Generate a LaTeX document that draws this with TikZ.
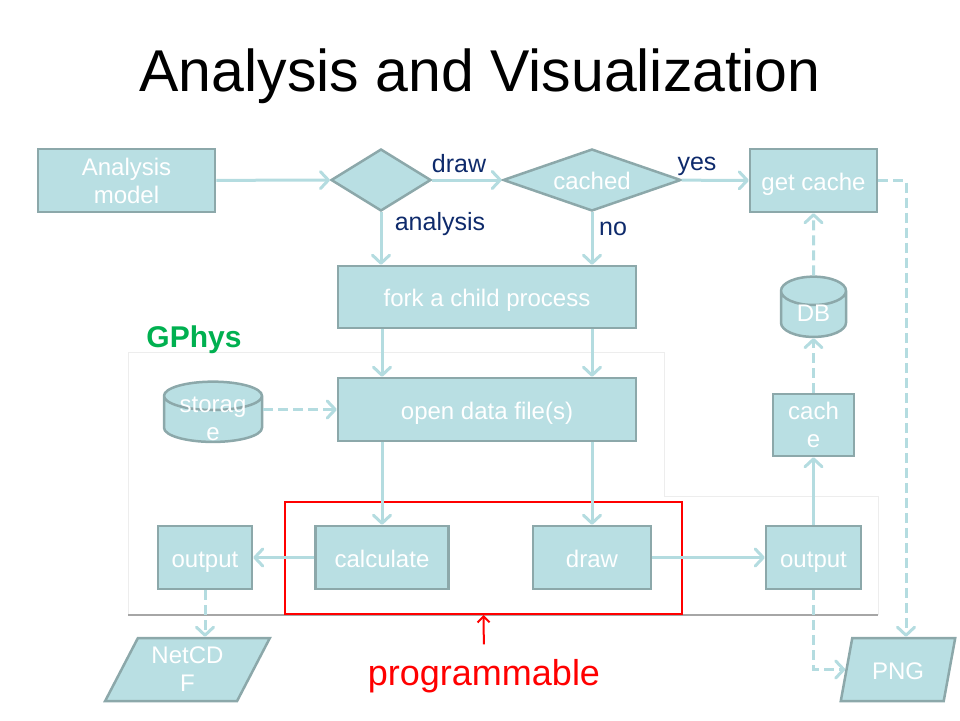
\documentclass[tikz,border=0pt]{standalone}
\usepackage{fontspec}
\setmainfont{Liberation Sans}
\usetikzlibrary{shapes.geometric,arrows.meta}
\definecolor{boxfill}{HTML}{B9DFE3}
\definecolor{boxline}{HTML}{8CA8AA}
\definecolor{flowline}{HTML}{B4DCE0}
\definecolor{labelblue}{HTML}{0E2A6B}
\definecolor{gphysgreen}{HTML}{00B050}

\begin{document}
\begin{tikzpicture}[x=1pt, y=-1pt,
	every node/.style = {align=center, font=\fontsize{24}{28}\selectfont},
	box/.style = {shape=rectangle, draw=boxline, fill=boxfill,
		line width=2.5pt, text=white, inner sep=0pt},
	sbox/.style = {box, text height=19pt, text depth=0pt},
	decision/.style = {sbox, shape=diamond, aspect=3},
	store/.style = {box, shape=cylinder, shape border rotate=90, aspect=0.85,
		label={[text=white, yshift=1pt]center:#1}},
	io/.style = {box, shape=trapezium, trapezium stretches=true},
	tag/.style = {text=labelblue, font=\fontsize{25}{28}\selectfont},
	flow/.style = {draw=flowline, line width=3pt,
		-{Straight Barb[length=8pt,width=17pt,round]}},
	dflow/.style = {flow, dash pattern=on 10pt off 5pt}]
	\useasboundingbox (0,0) rectangle (960,720);
	\node (title) [font=\fontsize{59}{64}\selectfont] at (480,76) {Analysis and Visualization};

	% GPhys region
	\draw[black!7, line width=1pt] (128,615) -- (128,352) -- (664,352) -- (664,496)
		-- (878,496) -- (878,615);
	\draw[black!35, line width=1.5pt] (128,615) -- (878,615);
	\node (gphys) [text=gphysgreen, font=\bfseries\fontsize{30}{32}\selectfont] at (194,340) {GPhys};

	\node (model) [box, minimum width=177, minimum height=63] at (126.5,180.5) {Analysis\\model};
	\node (mode) [decision, minimum width=100, minimum height=62] at (381,180) {};
	\node (cached) [decision, minimum width=178, minimum height=62] at (592,180) {cached};
	\node (getcache) [sbox, minimum width=127, minimum height=63] at (813.5,180.5) {get cache};
	\node (fork) [sbox, minimum width=298, minimum height=62] at (487,297) {fork a child process};
	\node (open) [sbox, minimum width=298, minimum height=63] at (487,409.5) {open data file(s)};
	\node (storage) [store={storag\\e}, minimum width=98, minimum height=60] at (213,419.5) {\phantom{DB}};
	\node (calc) [sbox, minimum width=133, minimum height=63] at (382,557.5) {calculate};
	\node (plot) [sbox, minimum width=118, minimum height=63] at (592,557.5) {draw};
	\node (outl) [sbox, minimum width=94, minimum height=63] at (205,557.5) {output};
	\node (outr) [sbox, minimum width=95, minimum height=63] at (813.5,557.5) {output};
	\node (cache) [box, minimum width=81, minimum height=62] at (813.5,425) {cach\\e};
	\node (db) [store={DB}, minimum width=65, minimum height=60] at (813.5,314.5) {\phantom{DB}};
	\node (netcdf) [io, trapezium left angle=62, trapezium right angle=118,
		minimum width=165, minimum height=63] at (187.5,669.5) {NetCD\\F};
	\node (png) [sbox, io, trapezium left angle=71, trapezium right angle=109,
		minimum width=115, minimum height=63] at (898,669.5) {PNG};

	\node (prog) [draw=red, line width=2pt, minimum width=397, minimum height=112] at (483.5,558) {};
	\node (plabel) [text=red, font=\fontsize{36}{40}\selectfont, anchor=base] at (484,685) {programmable};

	\node (tdraw) [tag] at (459,164) {draw};
	\node (tanalysis) [tag] at (440,224) {analysis};
	\node (tyes) [tag] at (697,166) {yes};
	\node (tno) [tag] at (613,229) {no};

	\draw[flow] (model) -- (mode);
	\draw[flow] (mode) -- (cached);
	\draw[flow] (cached) -- (getcache);
	\draw[flow] (mode.south) -- (mode.south |- fork.north);
	\draw[flow] (cached.south) -- (cached.south |- fork.north);
	\draw[flow] (fork.south -| calc.north) -- (open.north -| calc.north);
	\draw[flow] (fork.south -| plot.north) -- (open.north -| plot.north);
	\draw[dflow] (storage.east |- open.west) -- (open.west);
	\draw[flow] (open.south -| calc.north) -- (calc);
	\draw[flow] (open.south -| plot.north) -- (plot);
	\draw[flow] (calc) -- (outl);
	\draw[flow] (plot) -- (outr);
	\draw[dflow] (outl.south) -- (outl.south |- netcdf.north);
	\draw[flow] (outr) -- (cache);
	\draw[dflow] (cache) -- (db);
	\draw[dflow] (db) -- (getcache);
	\draw[dflow] (getcache.east) -| ([xshift=8pt]png.north);
	\draw[dflow] (outr.south) |- (png.west);
	\draw[red, line width=2pt, -{Straight Barb[length=6pt,width=12pt]}, shorten <=11pt] (plabel.north) -- (prog.south);
\end{tikzpicture}
\end{document}
